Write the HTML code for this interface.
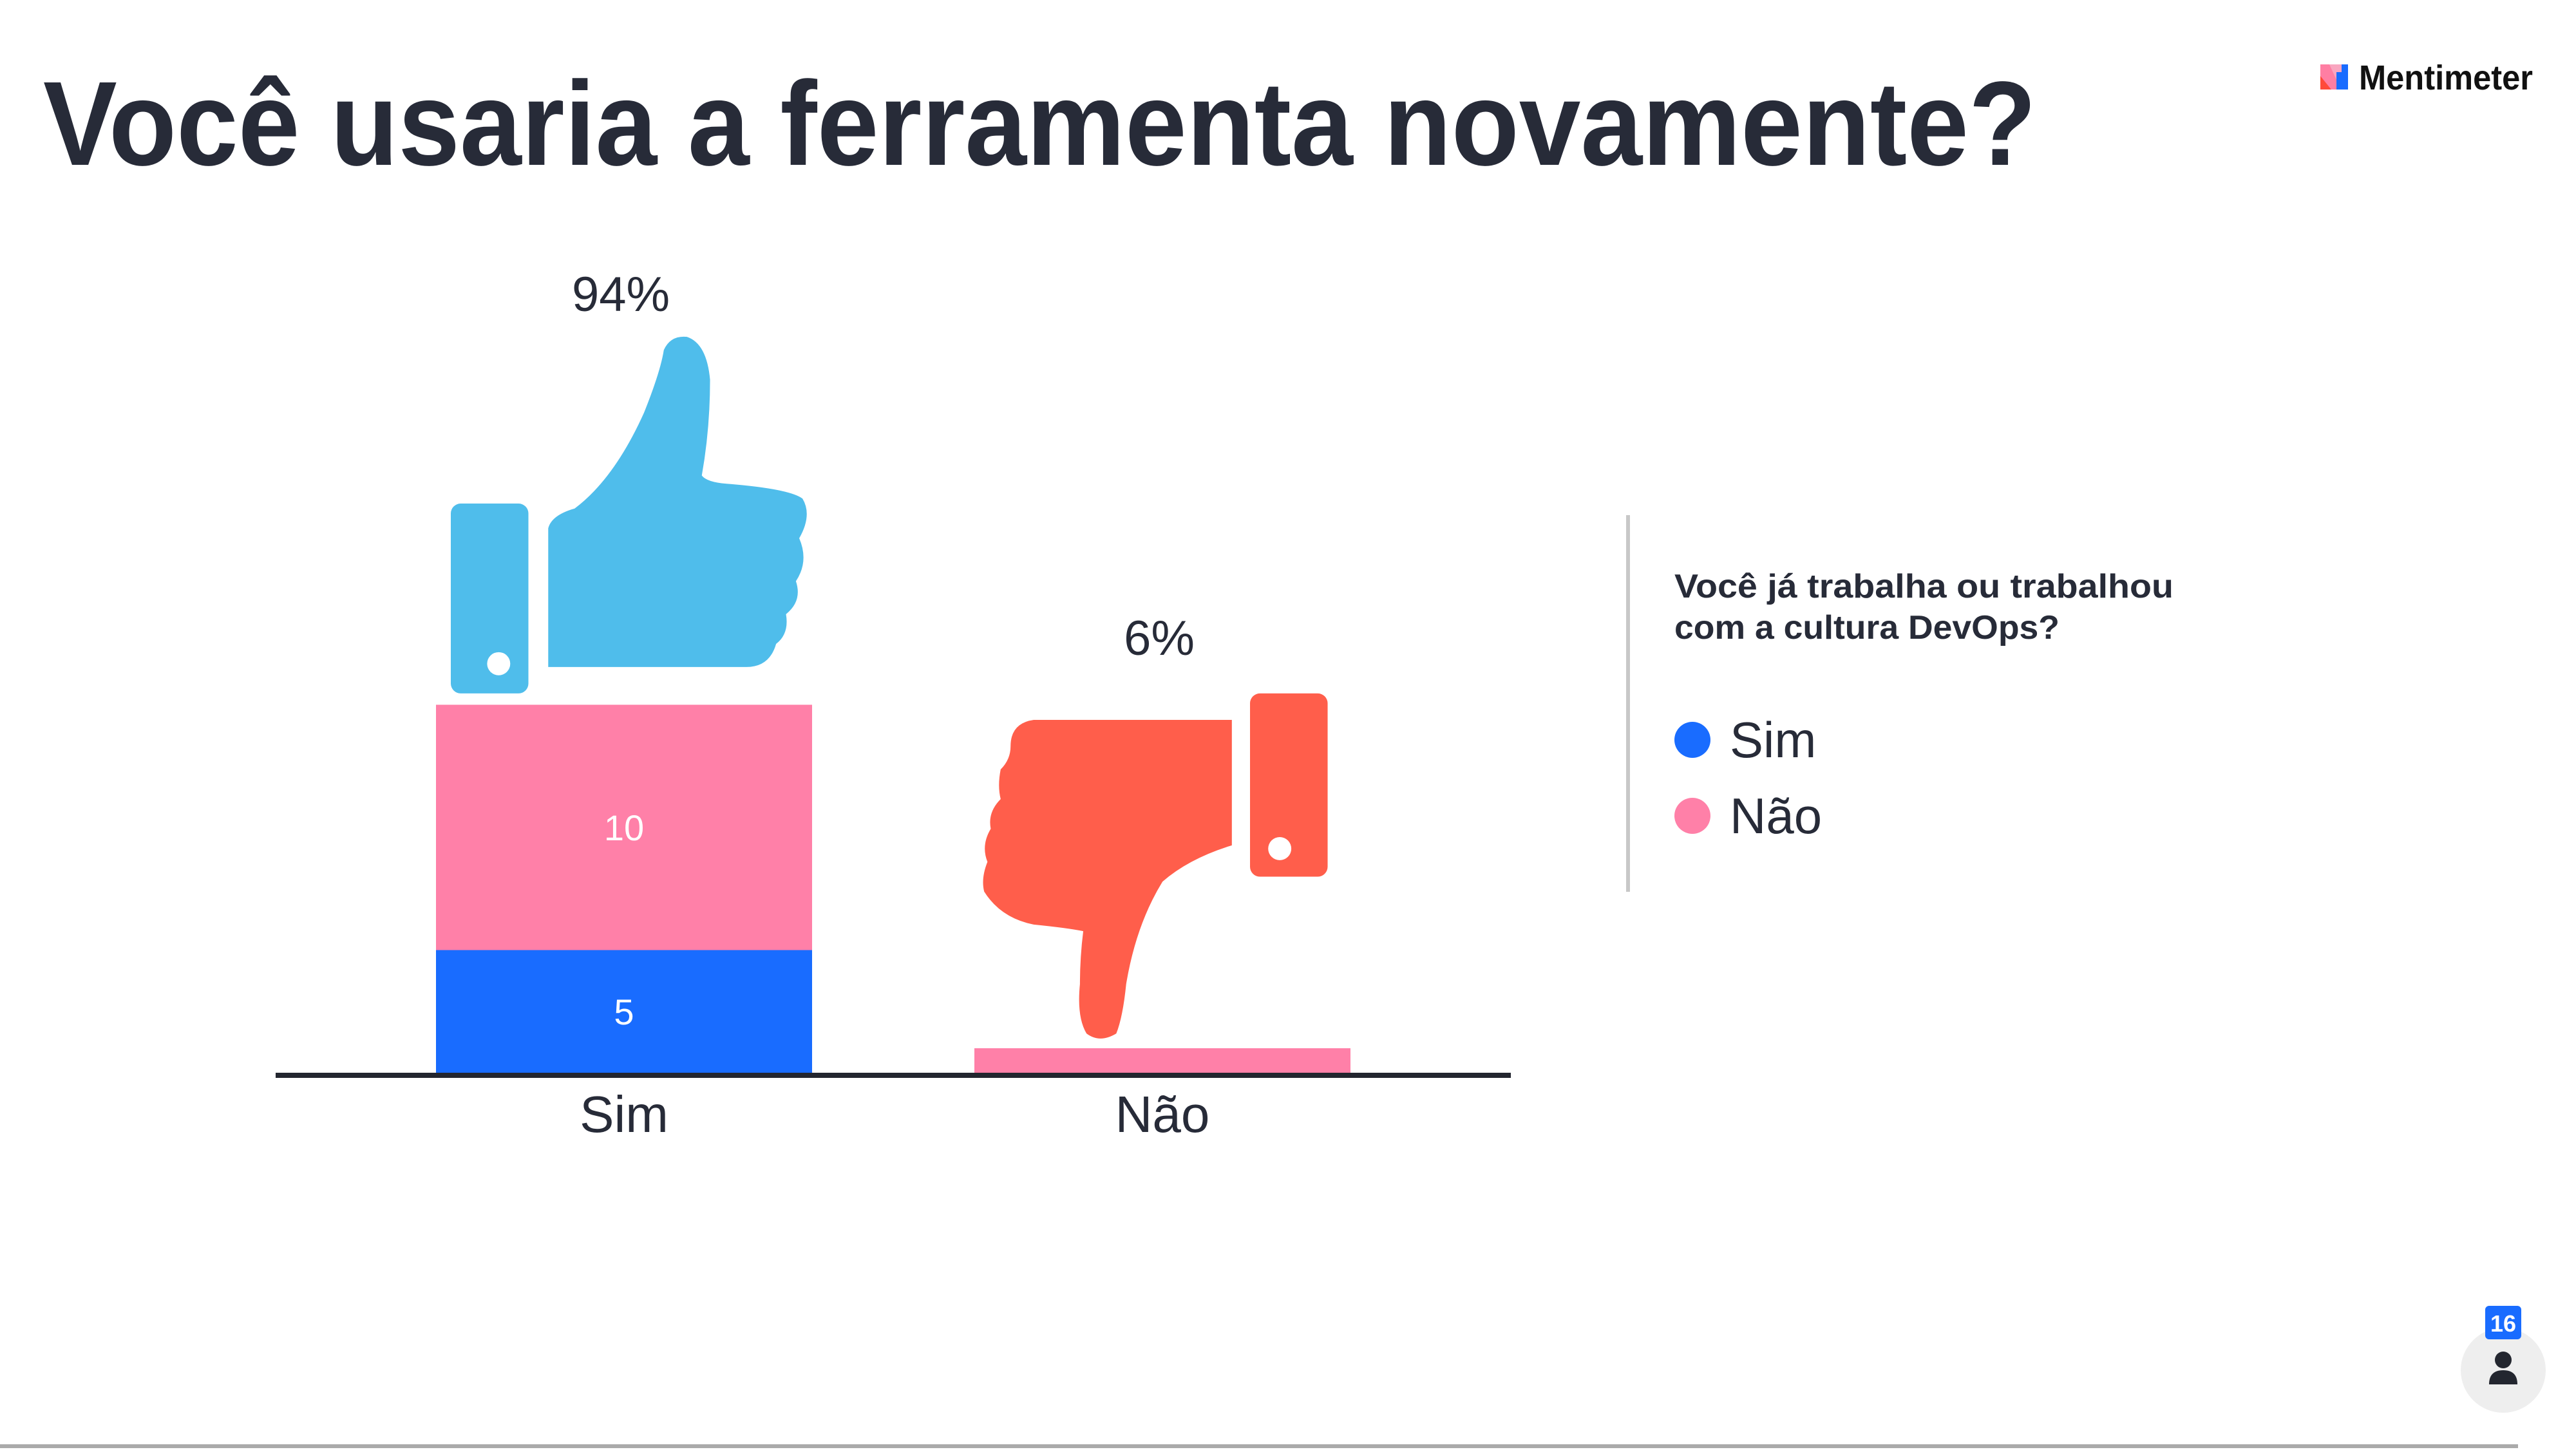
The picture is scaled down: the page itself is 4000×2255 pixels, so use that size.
<!DOCTYPE html>
<html><head><meta charset="utf-8">
<style>
html,body{margin:0;padding:0;background:#fff;}
body{width:4000px;height:2250px;overflow:hidden;position:relative;font-family:"Liberation Sans",sans-serif;}
</style></head>
<body>
<svg id="chart" width="4000" height="2250" viewBox="0 0 4000 2250" xmlns="http://www.w3.org/2000/svg">
  <text x="67" y="256" font-size="186" font-weight="bold" fill="#272b38" textLength="3095" lengthAdjust="spacingAndGlyphs">Você usaria a ferramenta novamente?</text>

  <g>
    <rect x="3603" y="100" width="43" height="39" fill="#f9a6c0"/>
    <path d="M3603 100 L3617 100 L3635 139 L3603 139Z" fill="#ff7ea3"/>
    <path d="M3603 118 L3620 139 L3603 139Z" fill="#ff4a3a"/>
    <path d="M3628 139 L3628 112 L3636 112 L3636 100 L3646 100 L3646 139Z" fill="#196cff"/>
    <text x="3663" y="139" font-size="54" font-weight="bold" fill="#111" textLength="270" lengthAdjust="spacingAndGlyphs">Mentimeter</text>
  </g>

  <g transform="scale(2.5641)">
    <rect x="273" y="305" width="47" height="115" rx="6" fill="#4fbdeb"/>
    <circle cx="302" cy="402" r="7" fill="#fff"/>
    <path d="M332 404 L332 320 Q334 312 348 308 Q372 290 390 250 Q400 225 402 212 Q406 203 416 204 Q428 208 430 230 Q430 260 425 288 Q428 292 440 293 Q478 296 486 302 Q492 312 484 326 Q490 340 482 352 Q486 364 476 372 Q478 384 470 390 Q466 404 452 404 Z" fill="#4fbdeb"/>
  </g>
  <g transform="scale(2.5641)">
    <rect x="757" y="420" width="47" height="111" rx="6" fill="#ff5e4b"/>
    <circle cx="775" cy="514" r="7" fill="#fff"/>
    <path d="M746 436 L626 436 Q612 438 612 452 Q612 460 606 466 Q604 476 606 484 Q598 492 600 502 Q594 512 598 522 Q594 532 596 540 Q606 556 626 560 Q646 562 656 564 Q654 580 654 596 Q652 616 658 626 Q666 632 676 626 Q680 616 682 596 Q688 560 704 534 Q720 520 746 512 Z" fill="#ff5e4b"/>
  </g>

  <g id="bars"></g>
  <line x1="428" y1="1670" x2="2346" y2="1670" stroke="#23262f" stroke-width="8"/>

  <line x1="2528" y1="800" x2="2528" y2="1385" stroke="#c8c8c8" stroke-width="6"/>
  <text font-size="52" fill="#272b38" font-weight="bold">
    <tspan x="2600" y="928" textLength="775" lengthAdjust="spacingAndGlyphs">Você já trabalha ou trabalhou</tspan>
    <tspan x="2600" y="992" textLength="598" lengthAdjust="spacingAndGlyphs">com a cultura DevOps?</tspan>
  </text>
  <g>
    <circle cx="2628" cy="1149" r="28" fill="#196cff"/>
    <text x="2686" y="1176" font-size="78" fill="#272b38">Sim</text>
  </g>
  <g>
    <circle cx="2628" cy="1267" r="28" fill="#ff80a8"/>
    <text x="2686" y="1294" font-size="78" fill="#272b38">Não</text>
  </g>

  <g>
    <circle cx="3887" cy="2128" r="66" fill="#eeeeee"/>
    <circle cx="3887" cy="2112" r="13" fill="#23262f"/>
    <path d="M3865 2150 Q3865 2128 3887 2128 Q3909 2128 3909 2150 Z" fill="#23262f"/>
    <rect x="3859" y="2028" width="56" height="52" rx="6" fill="#196cff"/>
    <text x="3887" y="2068" font-size="36" font-weight="bold" fill="#fff" text-anchor="middle">16</text>
  </g>
  <line x1="0" y1="2246" x2="3910" y2="2246" stroke="#aaaaaa" stroke-width="6"/>
</svg>
<script>
const categories = ["Sim", "Não"];
const seriesNames = ["Sim", "Não"];
const simValues = [5, 0];
const naoValues = [10, 1];
const percentLabels = ["94%", "6%"];

const NS = "http://www.w3.org/2000/svg";
const g = document.getElementById("bars");
const baseY = 1666, unit = 38.1;
const yScale = v => baseY - v * unit;
const xLeft = i => 677 + i * 836;
const barW = 584;
const colors = ["#196cff", "#ff80a8"];
const iconTop = [1100, 1115];

function mk(tag, attrs, text) {
  const e = document.createElementNS(NS, tag);
  for (const k in attrs) e.setAttribute(k, attrs[k]);
  if (text !== undefined) e.textContent = text;
  g.appendChild(e);
  return e;
}

categories.forEach((cat, i) => {
  const vals = [simValues[i], naoValues[i]];
  let acc = 0;
  vals.forEach((v, s) => {
    if (v <= 0) return;
    const y0 = yScale(acc), y1 = yScale(acc + v);
    const r = mk("rect", {x: xLeft(i), y: y1, width: barW, height: y0 - y1, fill: colors[s]});
    
    
    if (v >= 3) {
      const t = mk("text", {x: xLeft(i) + barW / 2, y: (y0 + y1) / 2 + 20, "font-size": 56, fill: "#fff", "text-anchor": "middle"}, String(v));
      
      
    }
    acc += v;
  });
  const c = mk("text", {x: xLeft(i) + barW / 2, y: 1758, "font-size": 80, fill: "#272b38", "text-anchor": "middle"}, cat);
  
  
  const p = mk("text", {x: xLeft(i) + barW / 2 - 5, y: i === 0 ? 483 : 1017, "font-size": 76, fill: "#272b38", "text-anchor": "middle"}, percentLabels[i]);
  
  
});
</script>
</body></html>
